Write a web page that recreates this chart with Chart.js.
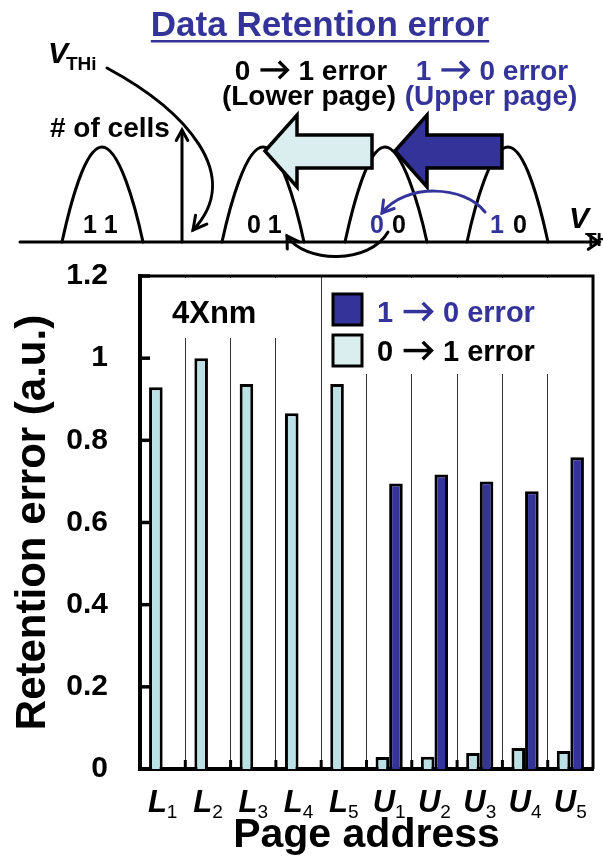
<!DOCTYPE html>
<html>
<head>
<meta charset="utf-8">
<title>Data Retention error</title>
<script src="https://cdn.jsdelivr.net/npm/chart.js@4.4.1/dist/chart.umd.min.js"></script>
<style>
  html, body { margin: 0; padding: 0; background: #fff; }
  #wrap { width: 603px; height: 858px; }
</style>
</head>
<body>
<div id="wrap"><canvas id="chart" width="603" height="858"></canvas></div>
<script>
// page addresses: letter + index (index drawn as subscript)
const pageAddresses = ['L1', 'L2', 'L3', 'L4', 'L5', 'U1', 'U2', 'U3', 'U4', 'U5'];
const error0to1 = [0.929, 1.0, 0.937, 0.866, 0.937, 0.029, 0.030, 0.039, 0.051, 0.044];
const error1to0 = [null, null, null, null, null, 0.695, 0.717, 0.700, 0.676, 0.759];
const yTickLabels = ['0', '0.2', '0.4', '0.6', '0.8', '1', '1.2'];

const NAVY = '#333399';
const AQUA = '#bbe1e4';
const AQUA_LIGHT = '#daeef0';
const FONT = '"Liberation Sans", Arial, sans-serif';

function font(size, style) {
    return (style || 'bold') + ' ' + size + 'px ' + FONT;
}

// "a -> b" text with a drawn bold arrow in the middle
function arrowText(ctx, left, right, x, y, size, color, align) {
    ctx.font = font(size);
    const gap = 0.36 * size, aw = 1.0 * size;
    const wl = ctx.measureText(left).width, wr = ctx.measureText(right).width;
    const total = wl + gap + aw + gap + wr;
    let x0 = align === 'center' ? x - total / 2 : x;
    ctx.save();
    ctx.textAlign = 'left';
    ctx.textBaseline = 'alphabetic';
    ctx.fillStyle = color;
    ctx.strokeStyle = color;
    ctx.fillText(left, x0, y);
    const ax = x0 + wl + gap, ay = y - 0.36 * size;
    ctx.lineWidth = 0.12 * size;
    ctx.lineCap = 'butt';
    ctx.lineJoin = 'miter';
    ctx.beginPath();
    ctx.moveTo(ax, ay);
    ctx.lineTo(ax + aw - 0.08 * size, ay);
    ctx.stroke();
    ctx.beginPath();
    ctx.moveTo(ax + aw - 0.34 * size, ay - 0.3 * size);
    ctx.lineTo(ax + aw - 0.04 * size, ay);
    ctx.lineTo(ax + aw - 0.34 * size, ay + 0.3 * size);
    ctx.stroke();
    ctx.fillText(right, ax + aw + gap, y);
    ctx.restore();
}

// small open arrow head at (tx, ty), pointing away from (fx, fy)
function arrowHead(ctx, tx, ty, fx, fy, len, spread) {
    const ang = Math.atan2(ty - fy, tx - fx);
    ctx.beginPath();
    ctx.moveTo(tx - len * Math.cos(ang - spread), ty - len * Math.sin(ang - spread));
    ctx.lineTo(tx, ty);
    ctx.lineTo(tx - len * Math.cos(ang + spread), ty - len * Math.sin(ang + spread));
    ctx.stroke();
}

function arch(ctx, xl, xp, xr) {
    const yb = 242, yt = 147;
    ctx.beginPath();
    ctx.moveTo(xl, yb);
    ctx.bezierCurveTo(xl + 8, 205, xp - 17, yt, xp, yt);
    ctx.bezierCurveTo(xp + 17, yt, xr - 8, 205, xr, yb);
    ctx.stroke();
}

function blockArrow(ctx, tipX, headX, rightX, fill) {
    ctx.beginPath();
    ctx.moveTo(tipX, 151);
    ctx.lineTo(headX, 115);
    ctx.lineTo(headX, 135);
    ctx.lineTo(rightX, 135);
    ctx.lineTo(rightX, 168);
    ctx.lineTo(headX, 168);
    ctx.lineTo(headX, 187);
    ctx.closePath();
    ctx.fillStyle = fill;
    ctx.fill();
    ctx.lineWidth = 3.5;
    ctx.strokeStyle = '#000';
    ctx.stroke();
}

function drawDiagram(ctx) {
    ctx.save();
    ctx.lineCap = 'round';
    ctx.lineJoin = 'miter';

    // title
    ctx.fillStyle = NAVY;
    ctx.font = font(35);
    ctx.textAlign = 'center';
    ctx.textBaseline = 'alphabetic';
    ctx.fillText('Data Retention error', 320, 36);
    const tw = ctx.measureText('Data Retention error').width;
    ctx.fillRect(320 - tw / 2, 40, tw, 2.5);

    // Vth axis and distributions
    ctx.strokeStyle = '#000';
    ctx.lineWidth = 3;
    ctx.beginPath();
    ctx.moveTo(20, 242);
    ctx.lineTo(598, 242);
    ctx.stroke();
    arrowHead(ctx, 599, 242, 580, 242, 13, 0.6);

    arch(ctx, 62, 102, 143);
    arch(ctx, 222, 263, 304);
    arch(ctx, 345, 385, 427);
    arch(ctx, 467, 508, 548);

    // # of cells axis
    ctx.beginPath();
    ctx.moveTo(182, 242);
    ctx.lineTo(182, 131);
    ctx.stroke();
    arrowHead(ctx, 182, 130, 182, 150, 12, 0.5);

    // curved arrow from V_THi
    ctx.beginPath();
    ctx.moveTo(107, 68);
    ctx.bezierCurveTo(185, 110, 245, 175, 193, 230);
    ctx.stroke();
    arrowHead(ctx, 193, 230, 212, 206, 15, 0.5);

    // block arrows
    blockArrow(ctx, 265, 297, 372, AQUA_LIGHT);
    blockArrow(ctx, 395, 427, 502, NAVY);

    // blue 10 -> 00 arrow
    ctx.strokeStyle = NAVY;
    ctx.lineWidth = 3;
    ctx.beginPath();
    ctx.moveTo(485, 212);
    ctx.bezierCurveTo(465, 185, 405, 183, 382, 213);
    ctx.stroke();
    arrowHead(ctx, 382, 213, 393, 199, 13, 0.55);

    // black 00 -> 01 arrow
    ctx.strokeStyle = '#000';
    ctx.beginPath();
    ctx.moveTo(388, 232);
    ctx.bezierCurveTo(370, 264, 305, 264, 287, 236);
    ctx.stroke();
    arrowHead(ctx, 287, 236, 296, 250, 13, 0.55);

    // labels
    ctx.textAlign = 'left';
    ctx.fillStyle = '#000';
    ctx.font = font(30, 'italic bold');
    ctx.fillText('V', 48, 63);
    ctx.fillText('V', 569, 228);
    ctx.font = font(19);
    ctx.fillText('THi', 66, 70);
    ctx.fillText('TH', 585, 246);

    ctx.font = font(28);
    ctx.fillText('# of cells', 50, 137);

    ctx.font = font(25);
    ctx.fillText('1 1', 83, 233);
    ctx.fillText('0 1', 247, 233);
    ctx.fillText('0', 392, 233);
    ctx.fillText('0', 513, 233);
    ctx.fillStyle = NAVY;
    ctx.fillText('0', 370, 233);
    ctx.fillText('1', 490, 233);

    ctx.textAlign = 'center';
    arrowText(ctx, '0', '1 error', 311, 80, 28, '#000', 'center');
    arrowText(ctx, '1', '0 error', 492, 80, 28, NAVY, 'center');
    ctx.font = font(28);
    ctx.fillStyle = '#000';
    ctx.fillText('(Lower page)', 309, 105);
    ctx.fillStyle = NAVY;
    ctx.fillText('(Upper page)', 491, 105);
    ctx.restore();
}

const figurePlugin = {
    id: 'figure',
    beforeDatasetsDraw(chart) {
        const { ctx, chartArea: a } = chart;
        // white boxes behind the "4Xnm" label and the legend hide the separators
        ctx.save();
        ctx.fillStyle = '#fff';
        ctx.fillRect(a.left + 2, a.top + 2, 160, 60);
        ctx.fillRect(325, a.top + 2, a.right - 2 - 325, 96);
        ctx.restore();
    },
    afterDraw(chart) {
        const { ctx, chartArea: a, scales } = chart;
        const xs = scales.x, ys = scales.y;
        ctx.save();

        // frame (top / right)
        ctx.strokeStyle = '#000';
        ctx.lineWidth = 3;
        ctx.beginPath();
        ctx.moveTo(a.left, a.top);
        ctx.lineTo(a.right, a.top);
        ctx.lineTo(a.right, a.bottom);
        ctx.stroke();

        // inward y ticks
        ctx.lineWidth = 3.5;
        ys.ticks.forEach(t => {
            const y = ys.getPixelForValue(t.value);
            ctx.beginPath();
            ctx.moveTo(a.left, y);
            ctx.lineTo(a.left + 10, y);
            ctx.stroke();
        });

        // short marks at category boundaries
        ctx.lineWidth = 3;
        for (let i = 0; i < pageAddresses.length - 1; i++) {
            const x = (xs.getPixelForValue(i) + xs.getPixelForValue(i + 1)) / 2;
            ctx.beginPath();
            ctx.moveTo(x, a.bottom - 9);
            ctx.lineTo(x, a.bottom);
            ctx.stroke();
        }

        // x labels: italic letter + subscript index
        ctx.fillStyle = '#000';
        ctx.textBaseline = 'alphabetic';
        ctx.textAlign = 'left';
        pageAddresses.forEach((lab, i) => {
            const letter = lab.charAt(0), sub = lab.slice(1);
            ctx.font = font(31, 'italic bold');
            const w1 = ctx.measureText(letter).width;
            ctx.font = font(19, 'normal');
            const w2 = ctx.measureText(sub).width;
            const x0 = xs.getPixelForValue(i) - (w1 + w2) / 2;
            ctx.font = font(31, 'italic bold');
            ctx.fillText(letter, x0, 812);
            ctx.font = font(19, 'normal');
            ctx.fillText(sub, x0 + w1, 818);
        });

        // node label
        ctx.font = font(31);
        ctx.fillText('4Xnm', 172, 323);

        // legend
        ctx.lineWidth = 3;
        ctx.fillStyle = NAVY;
        ctx.fillRect(333, 294, 29, 31);
        ctx.strokeRect(333, 294, 29, 31);
        ctx.fillStyle = AQUA_LIGHT;
        ctx.fillRect(333, 335, 29, 31);
        ctx.strokeRect(333, 335, 29, 31);
        arrowText(ctx, '1', '0 error', 377, 322, 29, NAVY, 'left');
        arrowText(ctx, '0', '1 error', 377, 361, 29, '#000', 'left');

        ctx.restore();
        drawDiagram(ctx);
    }
};

new Chart(document.getElementById('chart'), {
    type: 'bar',
    data: {
        labels: pageAddresses,
        datasets: [
            {
                label: '0 \u2192 1 error',
                data: error0to1,
                backgroundColor: AQUA,
                borderColor: '#000',
                borderWidth: 3
            },
            {
                label: '1 \u2192 0 error',
                data: error1to0,
                backgroundColor: NAVY,
                borderColor: '#000',
                borderWidth: 3
            }
        ]
    },
    options: {
        responsive: false,
        animation: false,
        devicePixelRatio: 1,
        layout: { padding: { top: 276, right: 10, left: 0, bottom: 0 } },
        categoryPercentage: 0.6,
        barPercentage: 1.0,
        plugins: {
            legend: { display: false },
            tooltip: { enabled: false }
        },
        scales: {
            x: {
                offset: true,
                grid: { offset: true, color: '#333', lineWidth: 1, drawTicks: false },
                border: { color: '#000', width: 4 },
                ticks: { display: false },
                title: {
                    display: true,
                    text: 'Page address',
                    color: '#000',
                    font: { family: FONT, size: 41, weight: 'bold', lineHeight: 1 },
                    padding: { top: 0, bottom: 2 }
                },
                afterFit(scale) { scale.height = 89; }
            },
            y: {
                min: 0,
                max: 1.2,
                grid: { display: false, drawTicks: false },
                border: { color: '#000', width: 4 },
                ticks: {
                    stepSize: 0.2,
                    padding: 32,
                    color: '#000',
                    font: { family: FONT, size: 30, weight: 'bold' },
                    callback: (v, i) => yTickLabels[i]
                },
                title: {
                    display: true,
                    text: 'Retention error (a.u.)',
                    color: '#000',
                    font: { family: FONT, size: 42, weight: 'bold', lineHeight: 1 },
                    padding: { top: 12, bottom: 0 }
                },
                afterFit(scale) { scale.width = 140; }
            }
        }
    },
    plugins: [figurePlugin]
});
</script>
</body>
</html>
